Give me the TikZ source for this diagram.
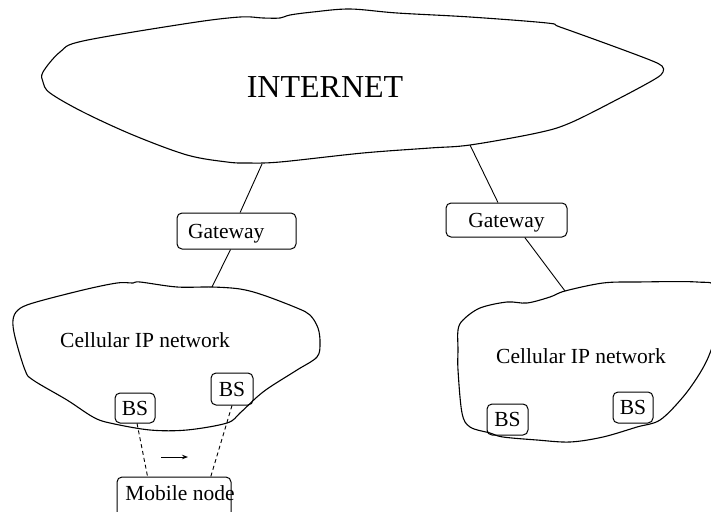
\documentclass[tikz,border=0pt]{standalone}
\usepackage{fontspec}
\setmainfont{Liberation Serif}
\usetikzlibrary{arrows.meta,calc}

\tikzset{
  cloud line/.style={line width=1.1pt, line join=round},
  netbox/.style={draw, line width=1pt, rounded corners=5pt, inner sep=0pt,
                 text height=14pt, text depth=0pt, align=center},
  link/.style={line width=0.9pt},
  radio/.style={line width=0.9pt, dash pattern=on 4pt off 3pt},
  small/.style={font=\fontsize{21.5}{24}\selectfont},
}

\begin{document}
\begin{tikzpicture}[x=1pt, y=-1pt, small]
\useasboundingbox (0,0) rectangle (711,511);
\clip (0,0) rectangle (711,511);

% The Internet cloud
\draw[cloud line] plot[smooth cycle, tension=0.55] coordinates {
  (43,72) (60,52) (83,41) (190,23) (240,17) (263,18) (280,18) (290,15)
  (313,12) (350,9) (397,13) (470,17) (547,23) (560,27) (610,45) (650,60)
  (662,66) (663,72) (655,79) (620,98) (570,123) (537,133) (470,145)
  (430,148) (363,153) (280,162) (247,163) (227,162) (187,155) (133,135)
  (83,112) (50,93) (43,82)};
\node[anchor=base, font=\fontsize{32}{36}\selectfont] (internet) at (325,97) {INTERNET};

% Left cellular IP network
\draw[cloud line] plot[smooth cycle, tension=0.55] coordinates {
  (13,320) (18,310) (33,303) (83,290) (117,283) (133,283) (140,282)
  (177,287) (212,287) (240,289) (263,295) (297,308) (310,315) (318,328)
  (320,343) (317,357) (297,370) (270,387) (257,397) (240,413) (227,423)
  (187,430) (150,430) (110,423) (93,417) (67,400) (33,380) (25,370)
  (15,337)};
\node[anchor=base] (cellA) at (145,347) {Cellular IP network};

% Right cellular IP network
\draw[cloud line] plot[smooth cycle, tension=0.55] coordinates {
  (458,350) (458,330) (463,320) (480,308) (507,302) (527,303) (550,297)
  (565,291) (603,283) (637,282) (697,282) (716,288) (716,330) (710,353)
  (700,373) (683,397) (660,420) (637,427) (603,437) (570,442) (537,440)
  (503,437) (490,433) (470,427) (462,413) (458,370)};
\node[anchor=base] (cellB) at (581,363) {Cellular IP network};

% Attachment points on the cloud outlines
\coordinate (inetA) at (262,164);
\coordinate (inetB) at (470,145);
\coordinate (cellAtop) at (212,287);
\coordinate (cellBtop) at (565,291);

% Gateways
\node[netbox, text width=97pt, inner xsep=11pt, align=left, minimum height=36pt]
  (gwA) at (236.5,231) {Gateway};
\node[netbox, minimum width=121pt, minimum height=34pt]
  (gwB) at (506.5,220) {Gateway};

\draw[link] (inetA) -- ($(gwA.north west)!0.53!(gwA.north east)$);
\draw[link] ($(gwA.south west)!0.45!(gwA.south east)$) -- (cellAtop);
\draw[link] (inetB) -- ($(gwB.north west)!0.43!(gwB.north east)$);
\draw[link] ($(gwB.south west)!0.65!(gwB.south east)$) -- (cellBtop);

% Base stations
\node[netbox, minimum width=40pt, minimum height=30pt] (bs1) at (135,408) {BS};
\node[netbox, minimum width=42pt, minimum height=32pt] (bs2) at (232,389) {BS};
\node[netbox, minimum width=41pt, minimum height=31pt] (bs3) at (507.5,419.5) {BS};
\node[netbox, minimum width=40pt, minimum height=31pt] (bs4) at (633,407.5) {BS};

% Mobile node (its lower edge runs off the page) and its radio links
\node[netbox, minimum width=114pt, minimum height=44pt] (mobile) at (174,499) {};
\node[anchor=base] (mobiletext) at (180,500) {Mobile node};

\draw[radio] ($(bs1.south west)!0.55!(bs1.south east)$)
          -- ($(mobile.north west)!0.27!(mobile.north east)$);
\draw[radio] (bs2.south) -- ($(mobile.north west)!0.82!(mobile.north east)$);

% Direction of movement
\coordinate (moveA) at (161,457);
\coordinate (moveB) at (188,457);
\draw[line width=0.9pt, -{Stealth[length=6pt,width=4.5pt]}] (moveA) -- (moveB);
\end{tikzpicture}
\end{document}
